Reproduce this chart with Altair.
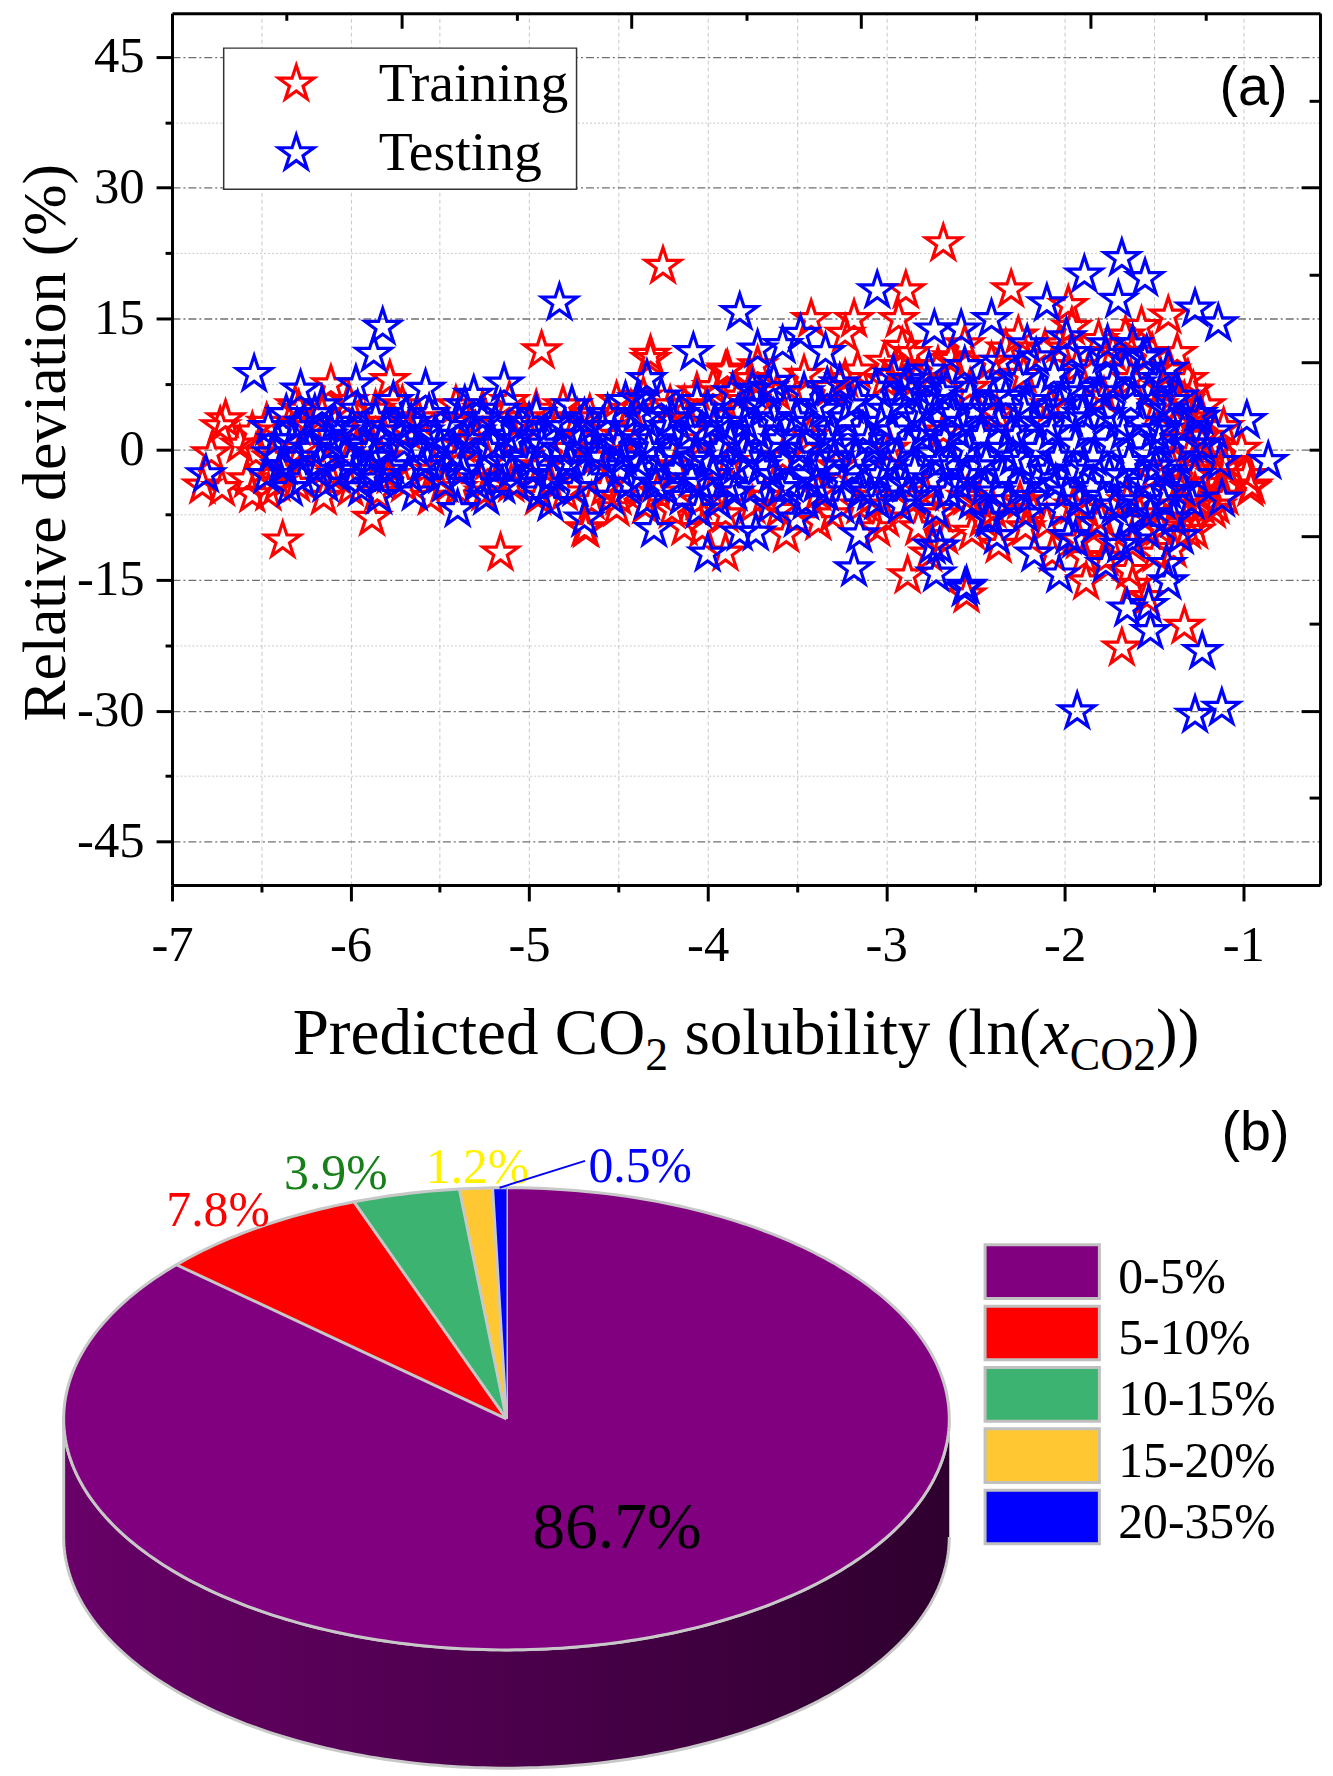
import altair as alt
import numpy as np
import pandas as pd

# ------------------------------------------------------------------
# (a) Relative deviation vs predicted ln(x_CO2)
# ------------------------------------------------------------------
training_band = [
    (-6.62, 0.5), (-6.58, -3.5),
    (-6.47, 3.0), (-6.44, -1.0), (-6.46, -5.0),
    (-6.31, 5.0), (-6.28, 0.0), (-6.30, -4.0),
    (-6.16, 4.0), (-6.13, -2.0), (-6.15, -5.5),
    (-6.01, 5.5), (-5.98, 1.0), (-6.00, -4.5),
    (-5.86, 4.5), (-5.83, -1.0), (-5.85, -5.0),
    (-5.71, 5.0), (-5.68, 2.0), (-5.70, -4.0),
    (-5.56, 4.0), (-5.53, -2.5), (-5.55, -5.5),
    (-5.41, 5.0), (-5.38, 0.5), (-5.40, -4.5),
    (-5.26, 4.5), (-5.23, -1.5), (-5.25, -5.0),
    (-5.11, 5.5), (-5.08, 1.0), (-5.10, -4.0),
    (-4.96, 4.5), (-4.93, -2.0), (-4.95, -5.5),
    (-4.81, 5.0), (-4.78, 0.0), (-4.80, -5.0),
    (-4.66, 4.0), (-4.63, -1.0), (-4.65, -6.0),
    (-4.51, 5.5), (-4.48, 1.5), (-4.50, -5.5),
    (-4.36, 6.0), (-4.33, 0.0), (-4.35, -6.5),
    (-4.21, 5.0), (-4.18, -2.0), (-4.20, -7.0),
    (-4.06, 6.5), (-4.03, 1.0), (-4.05, -6.0),
    (-3.91, 5.5), (-3.88, -1.5), (-3.90, -7.5),
    (-3.76, 8.0), (-3.73, 2.0), (-3.75, -6.5),
    (-3.61, 6.5), (-3.58, -1.0), (-3.60, -7.0),
    (-3.46, 8.5), (-3.43, 1.5), (-3.45, -6.0),
    (-3.31, 7.0), (-3.28, -2.0), (-3.30, -7.5),
    (-3.16, 9.0), (-3.13, 2.0), (-3.15, -6.5),
    (-3.01, 10.0), (-2.98, 0.0), (-3.00, -8.0),
    (-2.86, 11.0), (-2.83, 8.0), (-2.85, -6.0), (-2.82, -9.0),
    (-2.71, 9.5), (-2.68, 2.0), (-2.70, -7.5), (-2.67, -10.0),
    (-2.56, 12.0), (-2.53, 7.0), (-2.55, -5.5), (-2.52, -9.5),
    (-2.41, 10.0), (-2.38, 4.0), (-2.40, -7.0), (-2.37, -11.0),
    (-2.26, 13.0), (-2.23, 8.5), (-2.25, -6.0), (-2.22, -9.0),
    (-2.11, 11.5), (-2.08, 5.0), (-2.10, -8.5), (-2.07, -12.0),
    (-1.96, 14.0), (-1.93, 9.5), (-1.95, -6.5), (-1.92, -10.5),
    (-1.81, 12.5), (-1.78, 6.0), (-1.80, -8.0), (-1.77, -12.5),
    (-1.66, 13.0), (-1.63, 8.0), (-1.65, -6.0), (-1.62, -11.0), (-1.64, -14.0),
    (-1.51, 11.0), (-1.48, 5.0), (-1.50, -3.0), (-1.47, -9.0), (-1.49, -12.0),
    (-1.41, 9.0), (-1.38, 3.0), (-1.40, -2.0), (-1.37, -6.5), (-1.39, -11.5),
    (-1.31, 8.0), (-1.28, 3.5), (-1.30, -0.5), (-1.27, -5.0), (-1.29, -8.0),
    (-1.21, 5.0), (-1.18, 0.5), (-1.20, -4.0), (-1.17, -7.0),
    (-1.11, 2.5), (-1.08, -1.5), (-1.10, -5.5),
    (-1.01, 0.0), (-0.98, -3.0),
]
training_fringe = [
    (-6.55, 2.0), (-6.38, -2.5), (-6.22, 2.5), (-6.08, -3.0), (-5.92, 3.0),
    (-5.78, -3.0), (-5.62, 3.5), (-5.48, -4.0), (-5.33, 3.0), (-5.18, -3.5),
    (-5.03, 3.5), (-4.88, -4.0), (-4.73, 3.5), (-4.58, -4.5), (-4.43, 4.5),
    (-4.28, -5.0), (-4.13, 5.0), (-3.98, -5.0), (-3.83, 6.0), (-3.68, -5.5),
    (-3.53, 7.0), (-3.38, -5.0), (-3.23, 8.0), (-3.08, -5.5), (-2.93, 9.5),
    (-2.78, -5.0), (-2.63, 10.5), (-2.48, -6.0), (-2.33, 11.5), (-2.18, -7.0),
    (-2.03, 12.0), (-1.88, -7.0), (-1.73, 11.0), (-1.58, -7.5), (-1.45, 7.0),
    (-1.35, -4.0), (-1.25, -2.5), (-1.15, -6.5),
]
training_outliers = [
    (-6.70, 3.4), (-6.73, 2.6), (-6.78, -0.5), (-6.83, -4.2), (-6.72, -4.5),
    (-6.55, -5.2), (-6.38, -10.5), (-5.88, -7.9), (-5.16, -11.9), (-4.93, 11.3),
    (-5.78, 7.9), (-6.11, 7.4), (-6.29, 4.5), (-6.53, -0.5), (-6.41, -3.9),
    (-4.69, -9.1), (-4.25, 21.0), (-2.68, 23.6), (-2.89, 18.2), (-2.93, 14.9),
    (-3.42, 14.9), (-3.18, 14.9), (-4.32, 10.3), (-3.23, 13.2), (-2.91, 11.7),
    (-2.64, 10.2), (-3.89, 9.1), (-3.97, 7.1), (-3.72, 9.6), (-3.26, 7.5),
    (-3.01, 7.9), (-4.68, -9.2), (-4.51, -6.8), (-4.13, -9.0), (-4.03, -9.2),
    (-3.90, -11.9), (-3.56, -9.8), (-3.38, -8.4), (-3.05, -9.1), (-2.88, -14.5),
    (-2.76, -12.0), (-2.55, -16.7), (-2.30, 18.3), (-1.98, 16.5), (-1.42, 15.3),
    (-1.57, 14.1), (-1.37, 11.0), (-1.28, 6.7), (-1.33, 5.5), (-1.23, 1.4),
    (-1.10, -2.2), (-0.96, -4.5), (-1.23, -6.6), (-1.27, -9.4), (-1.44, -8.6),
    (-1.62, -15.6), (-1.54, -17.0), (-1.33, -20.3), (-1.68, -22.8), (-1.88, -15.2),
    (-1.89, -12.4), (-1.75, -10.6), (-1.31, -9.4), (-1.27, -1.0), (-1.15, -3.0),
    (-0.95, -4.2), (-3.90, 8.9), (-4.32, 10.8), (-2.46, -8.0),
]
testing_band = [
    (-6.46, 2.5), (-6.44, -0.5), (-6.47, -3.0),
    (-6.36, 4.0), (-6.33, 1.0), (-6.37, -2.0), (-6.34, -4.5),
    (-6.26, 3.0), (-6.23, 0.0), (-6.27, -3.5),
    (-6.16, 5.0), (-6.13, 1.5), (-6.17, -1.5), (-6.14, -4.0),
    (-6.06, 2.0), (-6.03, -0.5), (-6.07, -3.0),
    (-5.96, 4.5), (-5.93, 0.5), (-5.97, -2.5), (-5.94, -4.5),
    (-5.86, 3.5), (-5.83, 1.0), (-5.87, -1.0), (-5.84, -3.5),
    (-5.76, 5.5), (-5.73, 2.0), (-5.77, -2.0),
    (-5.66, 3.0), (-5.63, 0.0), (-5.67, -3.0), (-5.64, -5.0),
    (-5.56, 4.0), (-5.53, 1.5), (-5.57, -1.5),
    (-5.46, 2.5), (-5.43, -0.5), (-5.47, -4.0),
    (-5.36, 5.0), (-5.33, 1.0), (-5.37, -2.5),
    (-5.26, 3.5), (-5.23, 0.0), (-5.27, -3.5), (-5.24, -5.5),
    (-5.16, 4.5), (-5.13, 1.5), (-5.17, -1.5),
    (-5.06, 2.5), (-5.03, -1.0), (-5.07, -4.0),
    (-4.96, 4.0), (-4.93, 0.5), (-4.97, -2.5), (-4.94, -5.0),
    (-4.86, 3.0), (-4.83, 0.0), (-4.87, -3.0),
    (-4.76, 5.0), (-4.73, 1.5), (-4.77, -1.5), (-4.74, -4.5),
    (-4.66, 2.5), (-4.63, -0.5), (-4.67, -3.5),
    (-4.56, 4.0), (-4.53, 1.0), (-4.57, -2.0), (-4.54, -5.5),
    (-4.46, 5.5), (-4.43, 2.0), (-4.47, -1.0), (-4.44, -4.0),
    (-4.36, 3.5), (-4.33, 0.0), (-4.37, -3.0), (-4.34, -6.0),
    (-4.26, 6.0), (-4.23, 2.5), (-4.27, -1.5), (-4.24, -4.5),
    (-4.16, 4.0), (-4.13, 0.5), (-4.17, -2.5), (-4.14, -5.5),
    (-4.06, 5.5), (-4.03, 2.0), (-4.07, -1.0), (-4.04, -4.0), (-4.05, -7.0),
    (-3.96, 3.0), (-3.93, 0.0), (-3.97, -3.0), (-3.94, -6.0),
    (-3.86, 6.5), (-3.83, 4.0), (-3.87, 1.0), (-3.84, -2.0), (-3.85, -5.0),
    (-3.76, 5.0), (-3.73, 2.0), (-3.77, -1.0), (-3.74, -4.5),
    (-3.66, 7.0), (-3.63, 3.5), (-3.67, 0.0), (-3.64, -3.0), (-3.65, -6.5),
    (-3.56, 5.0), (-3.53, 1.5), (-3.57, -1.5), (-3.54, -4.0),
    (-3.46, 6.5), (-3.43, 3.0), (-3.47, 0.0), (-3.44, -3.0), (-3.45, -6.0),
    (-3.36, 4.5), (-3.33, 1.0), (-3.37, -2.0), (-3.34, -5.0),
    (-3.26, 7.5), (-3.23, 3.5), (-3.27, 0.5), (-3.24, -3.5), (-3.25, -6.5),
    (-3.16, 5.5), (-3.13, 2.0), (-3.17, -1.0), (-3.14, -4.5),
    (-3.06, 7.0), (-3.03, 3.0), (-3.07, 0.0), (-3.04, -3.0), (-3.05, -6.0),
    (-2.96, 8.5), (-2.93, 5.0), (-2.97, 2.0), (-2.94, -1.0), (-2.95, -4.0), (-2.92, -6.5),
    (-2.86, 6.5), (-2.83, 3.5), (-2.87, 0.5), (-2.84, -2.5), (-2.85, -5.5),
    (-2.76, 9.0), (-2.73, 5.5), (-2.77, 2.5), (-2.74, -0.5), (-2.75, -3.5), (-2.72, -7.0),
    (-2.66, 7.0), (-2.63, 4.0), (-2.67, 1.0), (-2.64, -2.0), (-2.65, -5.0),
    (-2.56, 9.5), (-2.53, 6.0), (-2.57, 3.0), (-2.54, 0.0), (-2.55, -3.0), (-2.52, -6.0),
    (-2.46, 7.5), (-2.43, 4.5), (-2.47, 1.5), (-2.44, -1.5), (-2.45, -4.5), (-2.42, -8.0),
    (-2.36, 10.0), (-2.33, 6.0), (-2.37, 3.0), (-2.34, 0.0), (-2.35, -3.0), (-2.32, -6.0),
    (-2.26, 8.0), (-2.23, 4.5), (-2.27, 1.5), (-2.24, -1.5), (-2.25, -4.5), (-2.22, -7.5),
    (-2.16, 10.5), (-2.13, 6.5), (-2.17, 3.0), (-2.14, 0.0), (-2.15, -3.5),
    (-2.06, 8.5), (-2.03, 5.0), (-2.07, 2.0), (-2.04, -1.0), (-2.05, -4.0), (-2.02, -7.0),
    (-1.96, 11.0), (-1.93, 7.0), (-1.97, 3.5), (-1.94, 0.5), (-1.95, -2.5), (-1.92, -6.0),
    (-1.86, 9.0), (-1.83, 5.5), (-1.87, 2.0), (-1.84, -1.0), (-1.85, -4.5), (-1.82, -8.5),
    (-1.76, 12.0), (-1.73, 7.5), (-1.77, 4.0), (-1.74, 0.5), (-1.75, -3.0), (-1.72, -6.5),
    (-1.66, 9.0), (-1.63, 5.5), (-1.67, 2.0), (-1.64, -1.5), (-1.65, -5.0), (-1.62, -10.5),
    (-1.56, 10.5), (-1.53, 6.5), (-1.57, 3.0), (-1.54, -0.5), (-1.55, -4.0), (-1.52, -7.5),
    (-1.46, 8.0), (-1.43, 4.5), (-1.47, 1.0), (-1.44, -2.5), (-1.45, -6.0),
    (-1.36, 6.0), (-1.33, 2.5), (-1.37, -1.0), (-1.34, -4.5), (-1.35, -10.0),
    (-1.26, 4.0), (-1.23, 0.5), (-1.27, -3.0),
    (-1.16, 2.0), (-1.13, -1.5),
]
testing_core = [
    (-6.41, 1.0), (-6.39, -2.0), (-6.30, 2.5), (-6.29, -1.0), (-6.20, 4.0),
    (-6.19, -2.5), (-6.10, 0.5), (-6.09, 3.0), (-6.00, -1.5), (-5.99, 2.5),
    (-5.90, -3.0), (-5.89, 0.0), (-5.80, 2.5), (-5.79, -2.5), (-5.70, 0.5),
    (-5.69, 4.0), (-5.60, -2.0), (-5.59, 2.0), (-5.50, 0.5), (-5.49, -3.0),
    (-5.40, 3.5), (-5.39, -1.0), (-5.30, 2.0), (-5.29, -4.0), (-5.20, 0.5),
    (-5.19, 3.0), (-5.10, -2.5), (-5.09, 1.0), (-5.00, 3.0), (-4.99, -1.5),
    (-4.90, 1.5), (-4.89, -4.0), (-4.80, 2.5), (-4.79, -2.0), (-4.70, 0.0),
    (-4.69, 3.5), (-4.60, -1.0), (-4.59, 2.5),
    (-4.50, 0.5), (-4.49, -2.5), (-4.40, 4.0), (-4.39, -1.5), (-4.30, 1.0),
    (-4.29, -4.0), (-4.20, 3.5), (-4.19, -0.5), (-4.10, 2.0), (-4.09, -3.5),
    (-4.00, 4.5), (-3.99, -1.5), (-3.90, 2.5), (-3.89, -4.0), (-3.80, 0.0),
    (-3.79, 3.0), (-3.70, -2.0), (-3.69, 5.0), (-3.60, 1.0), (-3.59, -4.5),
    (-3.50, 3.5), (-3.49, -1.0), (-3.40, 5.0), (-3.39, -4.0), (-3.30, 2.0),
    (-3.29, -1.0), (-3.20, 5.0), (-3.19, -2.5), (-3.10, 1.0), (-3.09, -5.0),
    (-3.00, 4.5), (-2.99, -2.0), (-2.90, 7.0), (-2.89, -4.0), (-2.80, 1.5),
    (-2.79, 4.5), (-2.70, -1.5), (-2.69, 6.5), (-2.60, 2.0), (-2.59, -4.0),
    (-2.50, 4.5), (-2.49, -2.0), (-2.40, 6.0), (-2.39, -5.0), (-2.30, 2.0),
    (-2.29, -1.0), (-2.20, 5.5), (-2.19, -5.5), (-2.10, 3.0), (-2.09, -2.5),
    (-2.00, 6.5), (-1.99, -5.0), (-1.90, 4.0), (-1.89, -2.0), (-1.80, 6.5),
    (-1.79, -5.5), (-1.70, 3.0), (-1.69, -3.0), (-1.60, 7.5), (-1.59, -6.0),
    (-1.50, 2.0), (-1.49, -2.0), (-1.40, 5.5), (-1.39, -8.0), (-1.30, 0.5),
    (-1.29, -6.0),
]
testing_outliers = [
    (-6.81, -2.9), (-6.54, 8.6), (-5.82, 14.0), (-5.87, 10.9), (-5.84, -5.4),
    (-6.28, 6.8), (-5.97, 7.4), (-5.58, 6.9), (-5.31, 6.2), (-5.14, 7.5),
    (-5.40, -6.9), (-5.15, -4.2), (-4.88, -6.2), (-4.69, -8.0), (-4.83, 16.8),
    (-4.34, 8.0), (-4.39, 5.7), (-4.08, 11.1), (-3.82, 15.7), (-3.72, 11.4),
    (-3.58, 11.9), (-3.48, 13.2), (-3.34, 11.1), (-3.05, 18.2), (-2.73, 13.7),
    (-2.58, 13.7), (-3.75, 6.8), (-3.63, 7.7), (-3.33, 7.1), (-2.88, 7.9),
    (-2.77, 7.5), (-4.30, -9.2), (-4.00, -12.0), (-3.82, -9.6), (-3.73, -9.6),
    (-3.50, -8.0), (-3.18, -13.7), (-3.15, -9.8), (-2.74, -11.1), (-2.72, -14.3),
    (-2.56, -16.0), (-1.89, 20.0), (-1.68, 21.9), (-1.55, 19.6), (-1.70, 17.1),
    (-2.10, 16.7), (-1.27, 16.1), (-1.14, 14.4), (-1.42, 9.2), (-1.24, 3.7),
    (-0.98, 3.3), (-0.86, -1.4), (-1.12, -5.7), (-1.42, -4.8), (-1.54, -9.4),
    (-1.64, -8.3), (-1.43, -13.2), (-1.42, -15.2), (-1.65, -18.3), (-1.53, -17.9),
    (-1.52, -20.9), (-1.23, -23.2), (-1.93, -30.1), (-1.27, -30.5), (-1.12, -29.7),
    (-2.03, -14.4), (-2.55, -15.7), (-2.70, -11.2), (-2.17, -12.0), (-2.38, -10.0),
    (-2.43, -7.9), (-1.98, -10.0), (-1.94, -10.4), (-1.77, -13.2), (-1.69, -11.0),
    (-2.41, 14.9), (-2.21, 12.0), (-1.99, 12.8), (-1.62, 12.0), (-1.77, 10.8),
    (-1.54, 10.8), (-1.45, 2.2),
]
series_names = ["Training", "Testing"]
series_colors = ["#FF0000", "#0000FF"]
x_ticks = [-7, -6, -5, -4, -3, -2, -1]
x_minor = [-6.5, -5.5, -4.5, -3.5, -2.5, -1.5]
y_ticks = [-45, -30, -15, 0, 15, 30, 45]
y_minor = [-37.5, -22.5, -7.5, 7.5, 22.5, 37.5]
right_major = [-30, -10, 10, 30]
right_minor = [-40, -20, 0, 20, 40]

# ------------------------------------------------------------------
# (b) share of data points per absolute-deviation range
# ------------------------------------------------------------------
pie_categories = ["0-5%", "5-10%", "10-15%", "15-20%", "20-35%"]
pie_shares = [86.7, 7.8, 3.9, 1.2, 0.5]
pie_colors = ["#800080", "#FF0000", "#3CB371", "#FFC832", "#0000FF"]
pie_label_colors = ["#000000", "#FF0000", "#17801A", "#FFF200", "#0000FF"]

# ------------------------------------------------------------------
SERIF = "Liberation Serif"
SANS = "Liberation Sans"
W, H = 1155, 877
XMIN, XMAX = -7.0, -0.57

xs = alt.Scale(domain=[XMIN, XMAX], nice=False, zero=False)
ys = alt.Scale(domain=[-50, 50], nice=False, zero=False)

# five-point star outline as a unit SVG path
ang = np.deg2rad(np.arange(10) * 36 - 90)
rad = np.where(np.arange(10) % 2 == 0, 1.0, 0.382)
STAR = "M" + " L".join(f"{r*np.cos(a):.4f},{r*np.sin(a):.4f}" for r, a in zip(rad, ang)) + " Z"

tr = training_band + training_fringe + training_outliers
te = testing_band + testing_core + testing_outliers
scatter_df = pd.DataFrame({
    "x": [p[0] for p in tr] + [p[0] for p in te],
    "y": [p[1] for p in tr] + [p[1] for p in te],
    "set": [series_names[0]] * len(tr) + [series_names[1]] * len(te),
})
anchor_df = pd.DataFrame({"x": [XMIN], "y": [0.0]})


def axis(orient, values, **kw):
    opts = dict(orient=orient, values=values, title=None, labels=False, ticks=False,
                domain=False, grid=False)
    opts.update(kw)
    return alt.Axis(**opts)


def xhelper(ax_):
    return alt.Chart(anchor_df).mark_point(opacity=0).encode(x=alt.X("x:Q", scale=xs, axis=ax_))


def yhelper(ax_):
    return alt.Chart(anchor_df).mark_point(opacity=0).encode(y=alt.Y("y:Q", scale=ys, axis=ax_))


TK = dict(ticks=True, tickColor="black", tickWidth=3)
DOM = dict(domain=True, domainColor="black", domainWidth=3)

grid_v = xhelper(axis("bottom", x_minor + x_ticks[1:], grid=True, gridColor="#C8C8C8",
                      gridDash=[4, 3], gridWidth=1, zindex=0))
grid_h_minor = yhelper(axis("left", y_minor, grid=True, gridColor="#C8C8C8",
                            gridDash=[2, 2], gridWidth=1, zindex=0))
grid_h_major = yhelper(axis("left", y_ticks, grid=True, gridColor="#707070",
                            gridDash=[8, 3, 2, 3], gridWidth=1.3, zindex=0))

points = alt.Chart(scatter_df).mark_point(
    shape=STAR, size=1400, filled=False, strokeWidth=3.2, opacity=1
).encode(
    x=alt.X("x:Q", scale=xs, axis=axis(
        "bottom", x_ticks, labels=True, tickSize=16, labelFont=SERIF, labelFontSize=51,
        labelColor="black", labelPadding=20, labelExpr="toString(datum.value)",
        labelFlush=False, labelOverlap=False, zindex=2, **TK, **DOM)),
    y=alt.Y("y:Q", scale=ys, axis=axis(
        "left", y_ticks, labels=True, tickSize=16, labelFont=SERIF, labelFontSize=51,
        labelColor="black", labelPadding=12, labelExpr="toString(datum.value)",
        labelFlush=False, labelOverlap=False, zindex=2, **TK, **DOM)),
    color=alt.Color("set:N", scale=alt.Scale(domain=series_names, range=series_colors),
                    legend=alt.Legend(
                        title=None, orient="none", legendX=52, legendY=35,
                        symbolType=STAR, symbolSize=1400, symbolStrokeWidth=3.2,
                        symbolOffset=37, labelFont=SERIF, labelFontSize=56,
                        labelColor="black", labelOffset=55, rowPadding=14, padding=8,
                        fillColor="white", strokeColor="#333333", labelLimit=0)),
)

bottom_minor = xhelper(axis("bottom", x_minor, tickSize=7, zindex=2, **TK))
left_minor = yhelper(axis("left", y_minor, tickSize=7, zindex=2, **TK))
top_vals = list(np.linspace(XMIN, XMAX, 11))
top_major = xhelper(axis("bottom", top_vals[::2], tickSize=15, offset=-H, zindex=2, **TK, **DOM))
top_minor = xhelper(axis("bottom", top_vals[1::2], tickSize=7, offset=-H, zindex=2, **TK))
right_maj = yhelper(axis("left", right_major, tickSize=19, offset=-W, zindex=2, **TK, **DOM))
right_min = yhelper(axis("left", right_minor, tickSize=11, offset=-W, zindex=2, **TK))

# ---- text: axis titles and panel tags ----
TIMES_W = {"P": 556, "r": 333, "e": 444, "d": 500, "i": 278, "c": 444, "t": 278, " ": 250,
           "C": 667, "O": 722, "s": 389, "o": 500, "l": 278, "u": 500, "b": 500, "y": 500,
           "(": 333, ")": 333, "n": 500, "x": 444, "2": 500}


def tw(s, size):
    return sum(TIMES_W[ch] for ch in s) / 1000.0 * size


F, FS = 65.5, 46
BASE, SUB = 1047, 1063
pieces = [("Predicted CO", F, "normal", BASE), ("2", FS, "normal", SUB),
          (" solubility (ln(", F, "normal", BASE), ("x", F, "italic", BASE),
          ("CO2", FS, "normal", SUB), ("))", F, "normal", BASE)]
total = sum(tw(s, sz) for s, sz, _, _ in pieces)
xpos = W / 2 - total / 2
text_layers = []
for s, sz, style, yb in pieces:
    lead = tw(" ", sz) if s.startswith(" ") else 0.0
    text_layers.append(
        alt.Chart(pd.DataFrame({"t": [s.strip()]})).mark_text(
            font=SERIF, fontSize=sz, fontStyle=style, align="left", baseline="alphabetic",
            color="black"
        ).encode(text="t:N", x=alt.value(xpos + lead), y=alt.value(yb))
    )
    xpos += tw(s, sz)

ytitle = alt.Chart(pd.DataFrame({"t": ["Relative deviation (%)"]})).mark_text(
    font=SERIF, fontSize=62, angle=270, align="center",
    baseline="middle", color="black"
).encode(text="t:N", x=alt.value(-127), y=alt.value(432))

tag_a = alt.Chart(pd.DataFrame({"t": ["(a)"]})).mark_text(
    font=SANS, fontSize=56, align="center", baseline="alphabetic", color="black"
).encode(text="t:N", x=alt.value(1088), y=alt.value(92))
tag_b = alt.Chart(pd.DataFrame({"t": ["(b)"]})).mark_text(
    font=SANS, fontSize=56, align="center", baseline="alphabetic", color="black"
).encode(text="t:N", x=alt.value(1090), y=alt.value(1144))

# ------------------------------------------------------------------
# 3-D pie geometry (page-pixel coordinate scales)
# ------------------------------------------------------------------
CX, CY, RX, RY, DEPTH = 509.5, 1420.0, 445.5, 232.5, 119.0
pxs = alt.Scale(domain=[0, 1333], range=[-173, 1160], nice=False, zero=False)
pys = alt.Scale(domain=[0, 1776], range=[-6, 1770], nice=False, zero=False)

frac = np.array(pie_shares) / np.sum(pie_shares)
cum = np.concatenate([[0.0], np.cumsum(frac)]) * 2 * np.pi

rows = []
for k, cat in enumerate(pie_categories):
    n = max(3, int(np.ceil((cum[k + 1] - cum[k]) / (2 * np.pi) * 360)))
    ts = np.linspace(cum[k], cum[k + 1], n + 1)
    pts = [(CX, CY)] + [(CX + RX * np.sin(t), CY - RY * np.cos(t)) for t in ts]
    for i, (px, py) in enumerate(pts):
        rows.append({"slice": cat, "i": i, "px": px, "py": py})
slices_df = pd.DataFrame(rows)

phis = np.linspace(0, np.pi, 181)
side_pts = [(CX + RX * np.cos(p), CY + RY * np.sin(p)) for p in phis] + \
           [(CX + RX * np.cos(p), CY + DEPTH + RY * np.sin(p)) for p in phis[::-1]]
side_df = pd.DataFrame({"i": range(len(side_pts)),
                        "px": [p[0] for p in side_pts], "py": [p[1] for p in side_pts]})

side_fill = alt.Gradient(
    gradient="linear", x1=0, x2=1, y1=0, y2=0,
    stops=[alt.GradientStop(color="#680068", offset=0),
           alt.GradientStop(color="#4C004C", offset=0.5),
           alt.GradientStop(color="#2E002E", offset=1)])

side = alt.Chart(side_df).mark_line(
    filled=True, fill=side_fill, stroke="#C8C8C8", strokeWidth=3, strokeJoin="round"
).encode(x=alt.X("px:Q", scale=pxs, axis=None), y=alt.Y("py:Q", scale=pys, axis=None),
         order="i:Q")

top = alt.Chart(slices_df).mark_line(
    filled=True, stroke="#C8C8C8", strokeWidth=3, strokeJoin="round"
).encode(x=alt.X("px:Q", scale=pxs, axis=None), y=alt.Y("py:Q", scale=pys, axis=None),
         color=alt.Color("slice:N", scale=alt.Scale(domain=pie_categories, range=pie_colors),
                         legend=None),
         order="i:Q")

# labels: anchor on rim at mid-angle (inside for the dominant share)
mid = (cum[:-1] + cum[1:]) / 2
radial = np.array([0.6, 1.0, 1.0, 1.0, 1.0])
anc_x = CX + radial * RX * np.sin(mid)
anc_y = CY - radial * RY * np.cos(mid)
label_offsets = [(2, 3, 66), (-40, -1.5, 50), (-70.5, -4.5, 50), (1.6, -5.1, 50), (141.5, -6, 50)]
pie_labels = []
for k, cat in enumerate(pie_categories):
    dx, dy, fs = label_offsets[k]
    df = pd.DataFrame({"px": [anc_x[k]], "py": [anc_y[k]], "t": [f"{pie_shares[k]}%"]})
    pie_labels.append(alt.Chart(df).mark_text(
        font=SERIF, fontSize=fs, align="center", baseline="alphabetic",
        color=pie_label_colors[k], dx=dx, dy=dy
    ).encode(x=alt.X("px:Q", scale=pxs, axis=None), y=alt.Y("py:Q", scale=pys, axis=None),
             text="t:N"))

leader_df = pd.DataFrame({"px": [anc_x[4]], "py": [anc_y[4]],
                          "px2": [anc_x[4] + 86], "py2": [anc_y[4] - 27]})
leader = alt.Chart(leader_df).mark_rule(color="#0000FF", strokeWidth=2).encode(
    x=alt.X("px:Q", scale=pxs, axis=None), y=alt.Y("py:Q", scale=pys, axis=None),
    x2="px2:Q", y2="py2:Q")

# legend for the pie: boxes + labels
leg_y = 1272 + 61.7 * np.arange(len(pie_categories))
leg_df = pd.DataFrame({"slice": pie_categories, "x0": 991, "x1": 1106,
                       "y0": leg_y - 27, "y1": leg_y + 27, "ty": leg_y + 21, "tx": 1125})
leg_boxes = alt.Chart(leg_df).mark_rect(stroke="#C0C0C0", strokeWidth=3).encode(
    x=alt.X("x0:Q", scale=pxs, axis=None), x2="x1:Q",
    y=alt.Y("y0:Q", scale=pys, axis=None), y2="y1:Q",
    color=alt.Color("slice:N", scale=alt.Scale(domain=pie_categories, range=pie_colors),
                    legend=None))
leg_text = alt.Chart(leg_df).mark_text(
    font=SERIF, fontSize=50, align="left", baseline="alphabetic", color="black"
).encode(x=alt.X("tx:Q", scale=pxs, axis=None), y=alt.Y("ty:Q", scale=pys, axis=None),
         text="slice:N")

layers = [grid_v, grid_h_minor, grid_h_major, points, bottom_minor, left_minor,
          top_major, top_minor, right_maj, right_min, ytitle, tag_a] + text_layers + \
         [side, top] + pie_labels + [leader, leg_boxes, leg_text, tag_b]

chart = alt.layer(*layers).resolve_scale(
    x="independent", y="independent", color="independent"
).resolve_axis(x="independent", y="independent").properties(
    width=W, height=H,
    autosize=alt.AutoSizeParams(type="none"),
    padding={"left": 165, "top": 0, "right": 5, "bottom": 891},
    background="white",
).configure_view(stroke=None).configure_legend(strokeWidth=1.5)

chart.save("out.html", embed_options={"renderer": "svg", "actions": False})
